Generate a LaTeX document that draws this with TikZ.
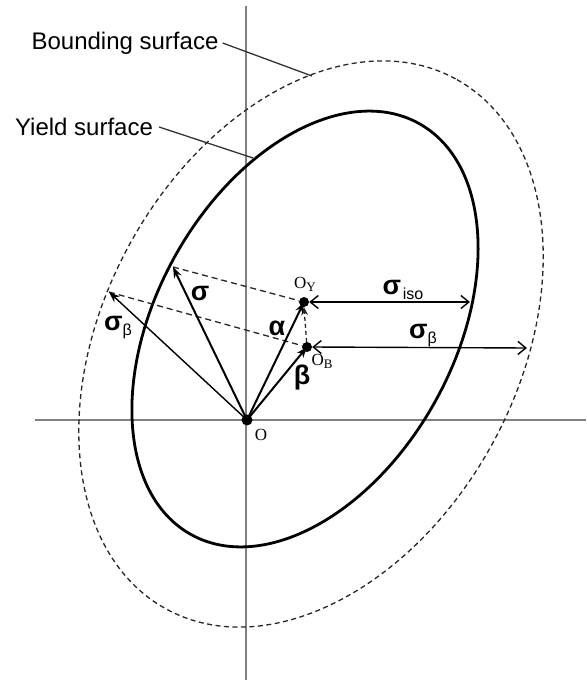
\documentclass[tikz,border=0pt]{standalone}
\usepackage{fontspec}
\setmainfont{Liberation Sans}
\newfontfamily\serifO{Liberation Serif}
\usetikzlibrary{arrows.meta}
\begin{document}
\begin{tikzpicture}[x=1pt,y=1pt,
  axisline/.style={draw=black!50, line width=1.5pt},
  yieldline/.style={line width=2.8pt},
  boundline/.style={line width=1.3pt, draw=black!85, dash pattern=on 5pt off 3.5pt},
  leader/.style={line width=1.3pt, draw=black!80},
  vecthick/.style={line width=2pt, -{Stealth[length=11pt,width=8pt]}},
  vecthin/.style={line width=1.4pt, -{Stealth[length=11pt,width=8pt]}},
  dashln/.style={line width=1.3pt, draw=black!85, dash pattern=on 6pt off 4pt},
  dimarrow/.style={line width=1.4pt, {Straight Barb[length=8pt,width=13pt]}-{Straight Barb[length=8pt,width=13pt]}},
  dot/.style={circle, fill=black, inner sep=0pt},
  txt/.style={font=\fontsize{24}{28}\selectfont, inner sep=0pt},
  grk/.style={font=\fontsize{27}{30}\selectfont\bfseries, inner sep=0pt},
  ptlab/.style={font=\serifO\fontsize{17}{20}\selectfont, inner sep=0pt}
]
\useasboundingbox (0,0) rectangle (586,-682);
% axes
\coordinate (Vtop) at (246,-6);
\coordinate (Vbot) at (246,-680);
\coordinate (Hl) at (35,-420);
\coordinate (Hr) at (586,-420);
\draw[axisline] (Vtop) -- (Vbot);
\draw[axisline] (Hl) -- (Hr);
% surfaces
\draw[boundline] (311,-344) ellipse[x radius=302, y radius=207, rotate=61.4];
\draw[yieldline] (305,-329) ellipse[x radius=235, y radius=149, rotate=61];
% labels for surfaces
\node[txt] (bs) at (125,-43) {Bounding surface};
\node[txt] (ys) at (84,-127) {Yield surface};
\coordinate (bsend) at (312,-76);
\coordinate (ysend) at (253,-158);
\draw[leader] (bs.east) ++(4,0) -- (bsend);
\draw[leader] (ys.east) ++(6,0) -- (ysend);
% points
\node[dot, minimum size=11pt] (O) at (247,-420) {};
\node[dot, minimum size=10pt] (OY) at (304,-302) {};
\node[dot, minimum size=10pt] (OB) at (307,-347) {};
\coordinate (S) at (173,-267);
\coordinate (SB) at (109,-292);
\coordinate (Iso) at (470,-302);
\coordinate (BE) at (527,-348);
% dashed lines
\draw[dashln] (S) -- (OY);
\draw[dashln] (SB) -- (OB);
\draw[line width=1.3pt, draw=black!85, dash pattern=on 4pt off 3pt, -{Stealth[length=8pt,width=7pt]}] (OB) -- (OY.south);
% vectors
\draw[vecthick] (O.center) -- (S);
\draw[vecthin] (O.center) -- (SB);
\draw[vecthick] (O.center) -- (OY.center);
\draw[vecthick] (O.center) -- (OB.center);
% dimension arrows
\draw[dimarrow] (OY.east) -- (Iso);
\draw[dimarrow] (OB.east) -- (BE);
% labels
\node[grk] (ls) at (200,-293) {σ};
\node[grk] (la) at (277,-328) {α};
\node[grk] (lb) at (302,-378) {β};
\node[inner sep=0pt] (lsb) at (118,-328) {{\fontsize{27}{30}\selectfont\bfseries σ}{\fontsize{16}{18}\selectfont\raisebox{-5pt}{β}}};
\node[inner sep=0pt] (lsi) at (403,-290) {{\fontsize{27}{30}\selectfont\bfseries σ}\,{\fontsize{16}{18}\selectfont\raisebox{-5pt}{iso}}};
\node[inner sep=0pt] (lsb2) at (423,-336) {{\fontsize{27}{30}\selectfont\bfseries σ}{\fontsize{16}{18}\selectfont\raisebox{-5pt}{β}}};
\node[ptlab] (lO) at (261,-435) {O};
\node[ptlab] (lOY) at (305,-284) {O\raisebox{-3pt}{\fontsize{13}{15}\selectfont Y}};
\node[ptlab] (lOB) at (322,-361) {O\raisebox{-3pt}{\fontsize{13}{15}\selectfont B}};
\end{tikzpicture}
\end{document}
